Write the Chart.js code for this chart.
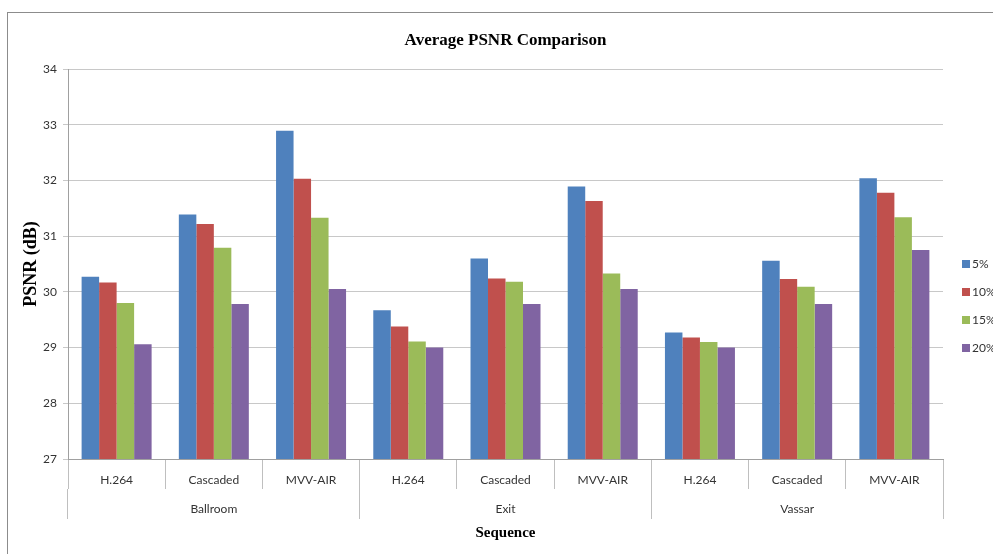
<!DOCTYPE html>
<html>
<head>
<meta charset="utf-8">
<script src="https://cdn.jsdelivr.net/npm/chart.js@4.4.1/dist/chart.umd.min.js"></script>
<style>
  html, body { margin: 0; padding: 0; background: #fff; overflow: hidden; }
  #wrap { position: relative; width: 993px; height: 554px; }
  #frame { position: absolute; left: 7px; top: 12px; width: 1100px; height: 700px;
           border-left: 1px solid #8c8c8c; border-top: 1px solid #8c8c8c; }
  #chart { position: absolute; left: 0; top: 0; }
</style>
</head>
<body>
<div id="wrap">
  <div id="frame"></div>
  <canvas id="chart" width="993" height="554"></canvas>
</div>
<script>
// data
var sequences = ['Ballroom', 'Exit', 'Vassar'];
var methods = ['H.264', 'Cascaded', 'MVV-AIR'];
var seriesNames = ['5%', '10%', '15%', '20%'];
var seriesColors = ['#4F81BD', '#C0504D', '#9BBB59', '#8064A2'];

var psnr5  = [30.27, 31.39, 32.89, 29.67, 30.60, 31.89, 29.27, 30.56, 32.04];
var psnr10 = [30.17, 31.22, 32.03, 29.38, 30.24, 31.63, 29.18, 30.23, 31.78];
var psnr15 = [29.80, 30.79, 31.33, 29.11, 30.18, 30.33, 29.10, 30.09, 31.34];
var psnr20 = [29.06, 29.78, 30.05, 29.00, 29.78, 30.05, 29.00, 29.78, 30.75];

var yMin = 27, yMax = 34, yStep = 1;

// one label per bar group: method repeated for each sequence
var categories = [];
sequences.forEach(function () {
  methods.forEach(function (m) { categories.push(m); });
});

var allSeries = [psnr5, psnr10, psnr15, psnr20];
var datasets = allSeries.map(function (vals, i) {
  return {
    label: seriesNames[i],
    data: vals,
    backgroundColor: seriesColors[i],
    borderWidth: 0,
    xAxisID: 'x',
    categoryPercentage: 0.72,
    barPercentage: 1.0
  };
});

Chart.defaults.font.family = 'Lato, "Open Sans", sans-serif';
Chart.defaults.color = '#333';

var serif = '"Liberation Serif", "DejaVu Serif", serif';

// simple legend at the right, drawn next to the plot area
var sideLegend = {
  id: 'sideLegend',
  afterDraw: function (chart) {
    var ctx = chart.ctx;
    var area = chart.chartArea;
    var x = area.right + 19;
    var y0 = area.top + 195;
    ctx.save();
    ctx.font = '12px Lato';
    ctx.textBaseline = 'middle';
    ctx.textAlign = 'left';
    chart.data.datasets.forEach(function (ds, i) {
      var y = y0 + i * 28;
      ctx.fillStyle = ds.backgroundColor;
      ctx.fillRect(x, y - 4, 8, 8);
      ctx.fillStyle = '#333';
      ctx.fillText(ds.label, x + 10, y);
    });
    ctx.restore();
  }
};

new Chart('chart', {
  type: 'bar',
  data: { labels: categories, datasets: datasets },
  options: {
    responsive: false,
    animation: false,
    devicePixelRatio: 1,
    layout: { padding: { left: 15, right: 50, top: 0, bottom: 8 } },
    plugins: {
      legend: { display: false },
      tooltip: { enabled: false },
      title: {
        display: true,
        fullSize: false,
        text: 'Average PSNR Comparison',
        color: '#000',
        font: { family: serif, size: 17, weight: 'bold' },
        padding: { top: 30, bottom: 18.6 }
      }
    },
    scales: {
      y: {
        min: yMin,
        max: yMax,
        ticks: { stepSize: yStep, padding: 6, font: { size: 12 }, color: '#333' },
        grid: { color: '#c8c8c8', tickLength: 5 },
        border: { color: '#a0a0a0' },
        title: {
          display: true,
          text: 'PSNR (dB)',
          color: '#000',
          font: { family: serif, size: 18, weight: 'bold' },
          padding: { top: 6, bottom: 0 }
        },
        afterFit: function (s) { s.width = 53; }
      },
      x: {
        position: 'bottom',
        ticks: { padding: -16, font: { size: 12 }, color: '#333', maxRotation: 0, autoSkip: false },
        grid: { drawOnChartArea: false, tickLength: 30, color: '#bfbfbf', offset: true },
        border: { color: '#a0a0a0' },
        afterFit: function (s) { s.height = 30; }
      },
      x2: {
        type: 'category',
        position: 'bottom',
        labels: sequences,
        offset: true,
        ticks: { padding: -17, font: { size: 12 }, color: '#333', maxRotation: 0, autoSkip: false },
        grid: { drawOnChartArea: false, tickLength: 30, color: '#bfbfbf', offset: true },
        border: { display: false },
        title: {
          display: true,
          text: 'Sequence',
          color: '#000',
          font: { family: serif, size: 15, weight: 'bold' },
          padding: { top: 0, bottom: 4 }
        },
        afterFit: function (s) { s.height = 57; }
      }
    }
  },
  plugins: [sideLegend]
});
</script>
</body>
</html>
